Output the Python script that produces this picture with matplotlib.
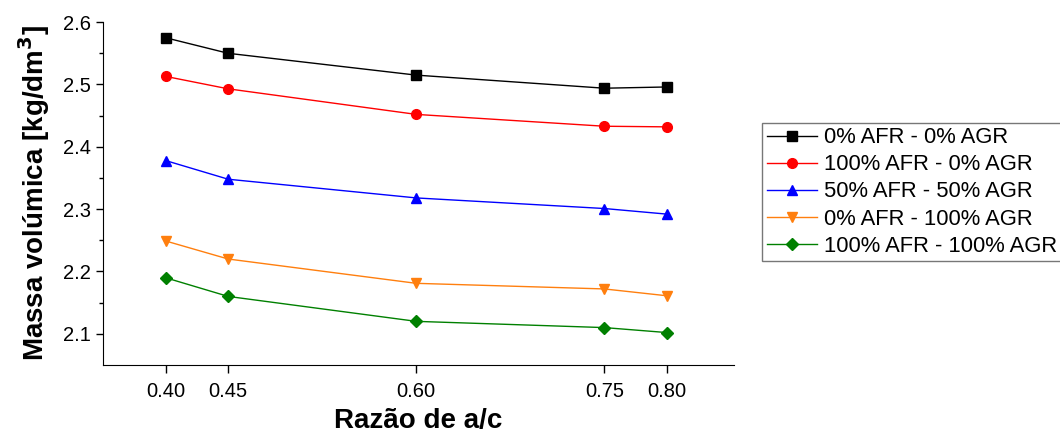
import numpy as np
import matplotlib.pyplot as plt

plt.rcParams['font.family'] = ['Liberation Sans', 'DejaVu Sans']

razao = [0.40, 0.45, 0.60, 0.75, 0.80]
tick_labels = ['0.40', '0.45', '0.60', '0.75', '0.80']

s_0afr_0agr = [2.575, 2.550, 2.515, 2.494, 2.496]
s_100afr_0agr = [2.513, 2.493, 2.452, 2.433, 2.432]
s_50afr_50agr = [2.378, 2.348, 2.318, 2.301, 2.292]
s_0afr_100agr = [2.249, 2.220, 2.181, 2.172, 2.161]
s_100afr_100agr = [2.190, 2.160, 2.120, 2.110, 2.102]

labels = ['0% AFR - 0% AGR', '100% AFR - 0% AGR', '50% AFR - 50% AGR',
          '0% AFR - 100% AGR', '100% AFR - 100% AGR']
series = [s_0afr_0agr, s_100afr_0agr, s_50afr_50agr, s_0afr_100agr, s_100afr_100agr]
colors = ['black', 'red', 'blue', '#ff7f0e', 'green']
markers = ['s', 'o', '^', 'v', 'D']
msizes = [6.5, 7, 7.5, 7.5, 6.5]

fig = plt.figure(figsize=(10.6, 4.34), dpi=100)
ax = fig.add_axes([0.097, 0.159, 0.595, 0.79])

for y, lab, c, m, ms in zip(series, labels, colors, markers, msizes):
    ax.plot(razao, y, color=c, marker=m, markersize=ms, linewidth=1, label=lab)

ax.set_xlim(0.35, 0.853)
ax.set_ylim(2.05, 2.6)
ax.set_xticks(razao)
ax.set_xticklabels(tick_labels)
ax.set_yticks([2.1, 2.2, 2.3, 2.4, 2.5, 2.6])
ax.set_yticks(np.arange(2.15, 2.6, 0.1), minor=True)
ax.tick_params(axis='both', which='major', labelsize=14.5, direction='out', length=5, width=1)
ax.tick_params(axis='x', which='major', length=6, pad=6)
ax.tick_params(axis='y', which='minor', direction='out', length=3, width=1)
ax.spines['top'].set_visible(False)
ax.spines['right'].set_visible(False)

ax.set_xlabel('Razão de a/c', fontsize=20, fontweight='bold', labelpad=5)
ax.set_ylabel('Massa volúmica [kg/dm$^\\mathbf{3}$]', fontsize=20, fontweight='bold', labelpad=8)

leg = fig.legend(loc='upper left', bbox_to_anchor=(0.719, 0.717), fontsize=15.8,
                 frameon=True, fancybox=False, edgecolor='#555555',
                 handlelength=2.3, handletextpad=0.3, labelspacing=0.28,
                 borderpad=0.2, borderaxespad=0)
leg.get_frame().set_linewidth(1)

fig.savefig('out.png', dpi=100)
